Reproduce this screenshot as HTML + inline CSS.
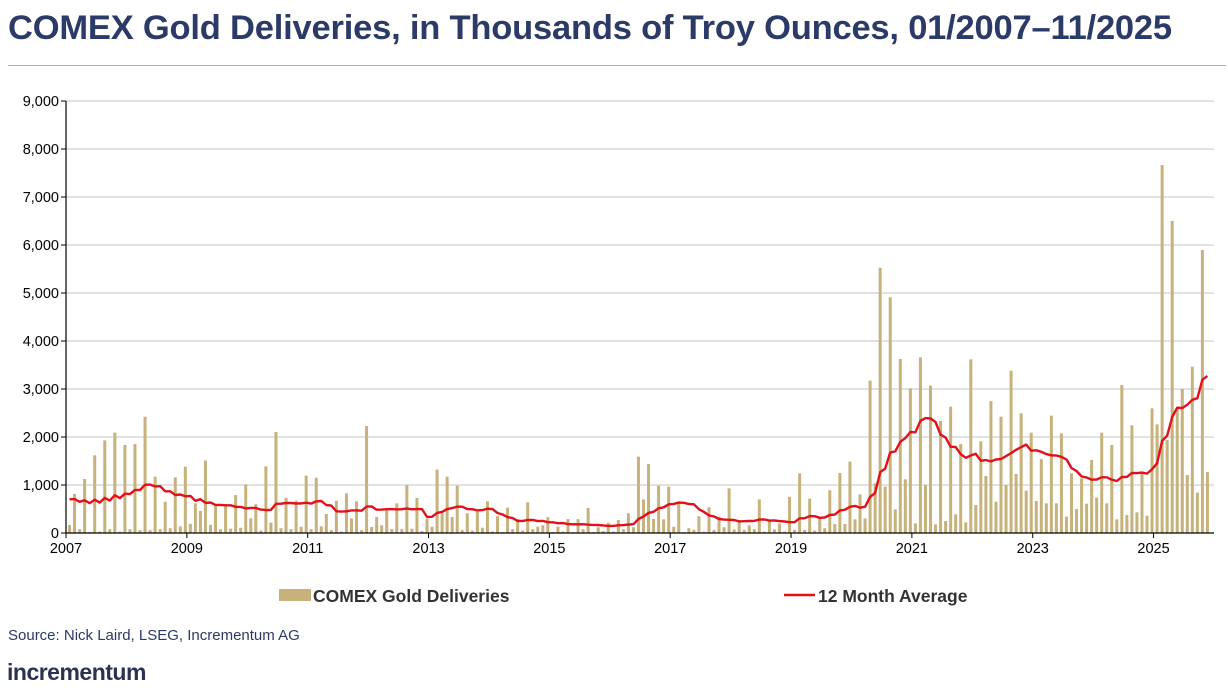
<!DOCTYPE html>
<html><head><meta charset="utf-8">
<style>
html,body{margin:0;padding:0;background:#fff;}
body{width:1228px;height:697px;position:relative;overflow:hidden;font-family:"Liberation Sans",Arial,sans-serif;}
#title{position:absolute;left:8px;top:9px;font-size:34.5px;font-weight:bold;color:#2b3a66;white-space:nowrap;letter-spacing:-0.2px;}
#rule{position:absolute;left:8px;top:65px;width:1218px;height:1px;background:#bfae7e;}
#source{position:absolute;left:8px;top:627px;font-size:15px;color:#2b3a66;}
#logo{position:absolute;left:7px;top:659px;font-size:23px;font-weight:bold;color:#2b3252;letter-spacing:-0.5px;}
svg{position:absolute;left:0;top:0;}
</style></head>
<body>
<div id="title">COMEX Gold Deliveries, in Thousands of Troy Ounces, 01/2007–11/2025</div>
<div id="rule"></div>
<svg id="chart" width="1228" height="697"></svg>
<div id="source">Source: Nick Laird, LSEG, Incrementum AG</div>
<div id="logo">incrementum</div>
<script>
const yTicks = [0,1000,2000,3000,4000,5000,6000,7000,8000,9000];
const yTickLabels = ["0","1,000","2,000","3,000","4,000","5,000","6,000","7,000","8,000","9,000"];
const xTickYears = [2007,2009,2011,2013,2015,2017,2019,2021,2023,2025];
const prior2006 = [750,750,750,750,750,750,750,750,750,750,750];
const d2007_2009 = [167,812,80,1125,20,1618,30,1930,80,2090,30,1833,
  80,1854,60,2423,60,1173,80,652,100,1160,140,1382,
  190,618,460,1510,170,560,80,560,90,790,110,1015];
const d2010_2012 = [305,600,50,1390,215,2104,100,735,80,673,130,1194,
  80,1152,140,396,60,673,30,826,305,660,60,2229,
  125,333,160,486,80,618,80,993,90,730,40,300];
const d2013_2015 = [130,1320,410,1173,333,985,60,410,50,440,110,660,
  30,350,20,528,80,290,50,640,80,130,160,330,
  20,130,30,290,20,290,80,520,20,120,40,215];
const d2016_2018 = [30,270,80,410,120,1590,700,1437,292,985,285,965,
  130,618,20,100,65,350,30,535,65,340,120,930,
  75,270,65,160,80,700,30,270,75,200,30,755];
const d2019_2021 = [65,1243,65,715,50,305,100,890,187,1250,187,1486,
  285,806,305,3173,1035,5527,965,4909,493,3625,1118,3014,
  200,3660,1000,3069,180,2333,250,2632,389,1854,220,3618];
const d2022_2025 = [583,1910,1187,2750,652,2423,1000,3381,1229,2493,881,2090,
  667,1541,618,2444,618,2076,340,1243,500,1139,611,1520,
  736,2090,618,1833,285,3083,375,2243,431,1270,360,2597,
  2264,7666,1937,6500,2600,3000,1208,3465,840,5895,1270];
const deliveries = [].concat(d2007_2009,d2010_2012,d2013_2015,d2016_2018,d2019_2021,d2022_2025);

const NS="http://www.w3.org/2000/svg";
const svg=document.getElementById('chart');
const X0=66, MW=5.035, Y0=533, YTOP=101, YMAX=9000, XR=1214;
function xm(m){return X0+m*MW;}
function yv(v){return Y0-(v/YMAX)*(Y0-YTOP);}
function mk(tag,attrs){const e=document.createElementNS(NS,tag);for(const k in attrs)e.setAttribute(k,attrs[k]);svg.appendChild(e);return e;}

yTicks.forEach((t,i)=>{
  if(t>0){const g=mk('line',{x1:X0,x2:XR,y1:yv(t),y2:yv(t),stroke:'#c4c4c4','stroke-width':1});
  
  }
  const tk=mk('line',{x1:X0-5,x2:X0,y1:yv(t),y2:yv(t),stroke:'#000','stroke-width':1});
  
  
  const tx=mk('text',{x:X0-7,y:yv(t)+5,'text-anchor':'end','font-size':'14.5',fill:'#000','font-family':'Liberation Sans, sans-serif'});
  tx.textContent=yTickLabels[i];
  
  
});

deliveries.forEach((v,i)=>{
  const cx=xm(i+0.7);
  const r=mk('rect',{x:cx-1.5,y:yv(v),width:3,height:Y0-yv(v),fill:'#c6b27a'});
  
  
});

const ax=mk('line',{x1:X0,x2:X0,y1:YTOP,y2:Y0,stroke:'#000','stroke-width':1.2});


const bx=mk('line',{x1:X0,x2:XR,y1:Y0,y2:Y0,stroke:'#000','stroke-width':1.2});


xTickYears.forEach(yr=>{
  const m=(yr-2007)*12;
  const t=mk('line',{x1:xm(m),x2:xm(m),y1:Y0,y2:Y0+5,stroke:'#000','stroke-width':1});
  
  
  const tx=mk('text',{x:xm(m),y:Y0+20,'text-anchor':'middle','font-size':'14.5',fill:'#000','font-family':'Liberation Sans, sans-serif'});
  tx.textContent=String(yr);
  
  
});

const all=prior2006.concat(deliveries);
let pts=[];
deliveries.forEach((v,i)=>{
  let s=0;for(let k=i;k<i+12;k++)s+=all[k];
  pts.push(xm(i+0.7).toFixed(1)+','+yv(s/12).toFixed(1));
});
const ln=mk('polyline',{points:pts.join(' '),fill:'none',stroke:'#e3101a','stroke-width':2.4,'stroke-linejoin':'round'});



const lb=mk('rect',{x:279,y:589,width:32,height:12,fill:'#c6b27a'});


const lt=mk('text',{x:313,y:602,'font-size':'17.5','font-weight':'bold',fill:'#333','font-family':'Liberation Sans, sans-serif'});
lt.textContent='COMEX Gold Deliveries';


const ll=mk('line',{x1:784,x2:815,y1:595,y2:595,stroke:'#e3101a','stroke-width':2.5});


const lt2=mk('text',{x:818,y:602,'font-size':'17.5','font-weight':'bold',fill:'#333','font-family':'Liberation Sans, sans-serif'});
lt2.textContent='12 Month Average';


</script>
</body></html>
